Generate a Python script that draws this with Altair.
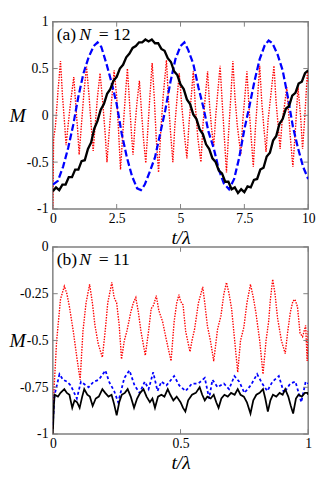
import altair as alt
import pandas as pd

FONT = "Liberation Serif"
FRAME = "#808080"
W = 262
H = 192

# ---------------- panel (a): N = 12 ----------------
XA_TICKS = [0, 2.5, 5, 7.5, 10]
YA_TICKS = [-1, -0.5, 0, 0.5, 1]

T_BLACK_A = [0, 0.125, 0.25, 0.375, 0.5, 0.625, 0.75, 0.875, 1.0, 1.125,
             1.25, 1.375, 1.5, 1.625, 1.75, 1.875, 2.0, 2.125, 2.25, 2.375,
             2.5, 2.625, 2.75, 2.875, 3.0, 3.125, 3.25, 3.375, 3.5, 3.625,
             3.75, 3.875, 4.0, 4.125, 4.25, 4.375, 4.5, 4.625, 4.75, 4.875,
             5.0, 5.125, 5.25, 5.375, 5.5, 5.625, 5.75, 5.875, 6.0, 6.125,
             6.25, 6.375, 6.5, 6.625, 6.75, 6.875, 7.0, 7.125, 7.25, 7.375,
             7.5, 7.625, 7.75, 7.875, 8.0, 8.125, 8.25, 8.375, 8.5, 8.625,
             8.75, 8.875, 9.0, 9.125, 9.25, 9.375, 9.5, 9.625, 9.75, 9.875,
             10.0]
M_BLACK_A = [-0.81, -0.77, -0.80, -0.74, -0.74, -0.66, -0.66, -0.58, -0.58, -0.49,
             -0.48, -0.36, -0.29, -0.14, -0.06, 0.06, 0.12, 0.23, 0.28, 0.37,
             0.41, 0.50, 0.54, 0.62, 0.66, 0.72, 0.74, 0.78, 0.78, 0.81,
             0.79, 0.81, 0.77, 0.77, 0.71, 0.69, 0.61, 0.57, 0.47, 0.43,
             0.33, 0.28, 0.17, 0.12, 0.01, -0.04, -0.15, -0.20, -0.31, -0.36,
             -0.46, -0.50, -0.59, -0.62, -0.71, -0.71, -0.79, -0.77, -0.83, -0.79,
             -0.82, -0.76, -0.77, -0.69, -0.68, -0.58, -0.56, -0.44, -0.40, -0.27,
             -0.22, -0.09, -0.04, 0.07, 0.10, 0.21, 0.24, 0.34, 0.36, 0.45,
             0.48]

T_BLUE_A = [0, 0.2, 0.4, 0.6, 0.8, 1.0, 1.2, 1.4, 1.6, 1.75,
            1.9, 2.1, 2.3, 2.5, 2.7, 2.9, 3.1, 3.3, 3.45, 3.6,
            3.8, 4.0, 4.2, 4.4, 4.6, 4.8, 5.0, 5.15, 5.3, 5.5,
            5.7, 5.9, 6.1, 6.3, 6.5, 6.7, 6.9, 7.1, 7.3, 7.5,
            7.7, 7.9, 8.1, 8.3, 8.45, 8.6, 8.8, 9.0, 9.2, 9.4,
            9.6, 9.8, 10.0]
M_BLUE_A = [-0.74, -0.70, -0.55, -0.35, -0.10, 0.20, 0.45, 0.62, 0.74, 0.78,
            0.73, 0.55, 0.35, 0.12, -0.20, -0.45, -0.65, -0.78, -0.80, -0.74,
            -0.60, -0.45, -0.20, 0.05, 0.35, 0.60, 0.74, 0.78, 0.70, 0.55,
            0.30, 0.08, -0.18, -0.35, -0.58, -0.73, -0.79, -0.68, -0.45, -0.15,
            0.10, 0.37, 0.60, 0.75, 0.80, 0.77, 0.65, 0.48, 0.20, -0.12,
            -0.35, -0.55, -0.68]

T_RED_A = [0, 0.03, 0.1, 0.2, 0.3, 0.38, 0.45, 0.52, 0.6, 0.7,
           0.82, 0.9, 0.97, 1.03, 1.12, 1.22, 1.32, 1.42, 1.5, 1.58,
           1.66, 1.75, 1.85, 1.95, 2.05, 2.12, 2.2, 2.3, 2.4, 2.5,
           2.58, 2.65, 2.75, 2.85, 2.92, 3.0, 3.08, 3.14, 3.22, 3.3,
           3.39, 3.47, 3.55, 3.64, 3.72, 3.8, 3.89, 3.97, 4.05, 4.14,
           4.22, 4.32, 4.45, 4.52, 4.6, 4.7, 4.78, 4.87, 4.95, 5.05,
           5.15, 5.25, 5.33, 5.42, 5.5, 5.58, 5.68, 5.8, 5.88, 5.97,
           6.06, 6.14, 6.22, 6.3, 6.38, 6.46, 6.55, 6.63, 6.72, 6.8,
           6.88, 6.97, 7.05, 7.13, 7.22, 7.36, 7.44, 7.52, 7.6, 7.68,
           7.77, 7.85, 7.93, 8.02, 8.1, 8.18, 8.27, 8.35, 8.43, 8.55,
           8.66, 8.74, 8.82, 8.9, 8.98, 9.07, 9.16, 9.24, 9.32, 9.4,
           9.5, 9.6, 9.7, 9.78, 9.87, 9.97, 10.0]
M_RED_A = [-1.0, -0.25, -0.12, 0.25, 0.58, 0.2, -0.05, -0.32, -0.1, 0.15,
           0.41, 0.1, -0.15, -0.42, -0.1, 0.25, 0.52, 0.2, -0.1, -0.38,
           -0.1, 0.2, 0.45, 0.15, -0.2, -0.5, -0.2, 0.15, 0.48, 0.2,
           -0.2, -0.58, -0.15, 0.25, 0.5, 0.15, -0.2, -0.42, -0.1, 0.15,
           0.37, 0.05, -0.25, -0.51, -0.15, 0.2, 0.56, 0.2, -0.25, -0.61,
           -0.2, 0.2, 0.59, 0.2, -0.15, -0.5, -0.1, 0.2, 0.45, 0.1,
           -0.2, -0.46, -0.1, 0.2, 0.47, 0.1, -0.25, -0.5, -0.1, 0.2,
           0.47, 0.1, -0.15, -0.33, 0.0, 0.25, 0.53, 0.15, -0.25, -0.61,
           -0.2, 0.2, 0.58, 0.2, -0.1, -0.42, -0.05, 0.2, 0.47, 0.1,
           -0.25, -0.55, -0.15, 0.2, 0.53, 0.15, -0.15, -0.39, -0.05, 0.25,
           0.53, 0.15, -0.1, -0.36, -0.05, 0.1, 0.3, 0.0, -0.3, -0.55,
           -0.15, 0.3, 0.0, -0.36, 0.0, 0.47, 0.35]

# ---------------- panel (b): N = 11 ----------------
XB_TICKS = [0, 0.5, 1]
YB_TICKS = [-1, -0.75, -0.5, -0.25, 0]

T_RED_B = [0, 0.005, 0.015, 0.03, 0.045, 0.055, 0.065, 0.08, 0.095, 0.107,
           0.118, 0.13, 0.144, 0.155, 0.165, 0.178, 0.194, 0.205, 0.215, 0.231,
           0.24, 0.25, 0.26, 0.269, 0.28, 0.29, 0.305, 0.315, 0.325, 0.335,
           0.345, 0.362, 0.375, 0.385, 0.395, 0.405, 0.415, 0.43, 0.445, 0.463,
           0.475, 0.485, 0.494, 0.5, 0.51, 0.52, 0.537, 0.545, 0.555, 0.57,
           0.587, 0.595, 0.605, 0.617, 0.63, 0.645, 0.658, 0.67, 0.68, 0.69,
           0.7, 0.712, 0.724, 0.735, 0.748, 0.76, 0.774, 0.785, 0.795, 0.81,
           0.823, 0.835, 0.845, 0.852, 0.861, 0.87, 0.88, 0.895, 0.91, 0.92,
           0.93, 0.94, 0.948, 0.958, 0.968, 0.978, 0.99, 0.996, 1.0]
M_RED_B = [-1.0, -0.75, -0.5, -0.28, -0.21, -0.25, -0.32, -0.45, -0.6, -0.71,
           -0.45, -0.3, -0.2, -0.3, -0.42, -0.52, -0.59, -0.45, -0.3, -0.19,
           -0.27, -0.3, -0.42, -0.6, -0.5, -0.45, -0.35, -0.3, -0.27, -0.35,
           -0.45, -0.58, -0.45, -0.33, -0.31, -0.26, -0.34, -0.4, -0.5, -0.61,
           -0.4, -0.3, -0.255, -0.29, -0.31, -0.45, -0.56, -0.5, -0.44, -0.3,
           -0.214, -0.3, -0.42, -0.5, -0.61, -0.44, -0.37, -0.25, -0.19, -0.25,
           -0.33, -0.5, -0.67, -0.5, -0.43, -0.3, -0.2, -0.27, -0.35, -0.5,
           -0.68, -0.5, -0.4, -0.28, -0.173, -0.25, -0.38, -0.5, -0.57, -0.45,
           -0.35, -0.29, -0.28, -0.32, -0.46, -0.48, -0.42, -0.61, -0.45]

T_BLUE_B = [0, 0.007, 0.026, 0.04, 0.055, 0.07, 0.094, 0.11, 0.12, 0.14,
            0.16, 0.18, 0.206, 0.22, 0.24, 0.256, 0.28, 0.3, 0.32, 0.34,
            0.36, 0.375, 0.393, 0.41, 0.425, 0.445, 0.475, 0.495, 0.52, 0.545,
            0.57, 0.595, 0.612, 0.625, 0.645, 0.67, 0.69, 0.711, 0.73, 0.75,
            0.775, 0.8, 0.82, 0.84, 0.86, 0.885, 0.905, 0.93, 0.95, 0.973,
            0.99, 1.0]
M_BLUE_B = [-0.95, -0.79, -0.68, -0.71, -0.72, -0.74, -0.81, -0.72, -0.73, -0.75,
            -0.72, -0.71, -0.66, -0.72, -0.77, -0.83, -0.7, -0.66, -0.74, -0.78,
            -0.72, -0.76, -0.67, -0.77, -0.72, -0.74, -0.69, -0.74, -0.77, -0.73,
            -0.73, -0.70, -0.81, -0.71, -0.75, -0.73, -0.76, -0.69, -0.72, -0.78,
            -0.74, -0.68, -0.73, -0.77, -0.72, -0.69, -0.78, -0.73, -0.72, -0.83,
            -0.72, -0.73]

T_BLACK_B = [0, 0.004, 0.007, 0.02, 0.03, 0.045, 0.055, 0.065, 0.076, 0.085,
             0.095, 0.105, 0.115, 0.123, 0.135, 0.145, 0.156, 0.168, 0.18, 0.194,
             0.205, 0.218, 0.23, 0.24, 0.25, 0.26, 0.27, 0.282, 0.293, 0.305,
             0.318, 0.33, 0.342, 0.355, 0.367, 0.38, 0.39, 0.4, 0.412, 0.425,
             0.437, 0.45, 0.46, 0.472, 0.485, 0.5, 0.51, 0.519, 0.53, 0.545,
             0.56, 0.575, 0.585, 0.595, 0.605, 0.618, 0.63, 0.64, 0.649, 0.66,
             0.672, 0.685, 0.698, 0.712, 0.724, 0.735, 0.748, 0.76, 0.774, 0.785,
             0.797, 0.81, 0.823, 0.832, 0.842, 0.852, 0.862, 0.875, 0.888, 0.9,
             0.91, 0.922, 0.932, 0.941, 0.952, 0.962, 0.975, 0.987, 0.997, 1.0]
M_BLACK_B = [-1.0, -0.85, -0.79, -0.8, -0.78, -0.76, -0.78, -0.79, -0.86, -0.82,
             -0.83, -0.86, -0.8, -0.76, -0.79, -0.8, -0.85, -0.81, -0.8, -0.76,
             -0.78, -0.8, -0.79, -0.84, -0.90, -0.83, -0.79, -0.78, -0.76, -0.8,
             -0.86, -0.81, -0.78, -0.76, -0.8, -0.83, -0.81, -0.86, -0.8, -0.79,
             -0.8, -0.76, -0.79, -0.82, -0.8, -0.83, -0.86, -0.88, -0.82, -0.79,
             -0.78, -0.75, -0.79, -0.82, -0.8, -0.81, -0.79, -0.83, -0.86, -0.81,
             -0.79, -0.8, -0.78, -0.79, -0.76, -0.79, -0.8, -0.83, -0.89, -0.82,
             -0.79, -0.78, -0.76, -0.81, -0.88, -0.82, -0.79, -0.8, -0.78, -0.79,
             -0.76, -0.8, -0.85, -0.89, -0.81, -0.79, -0.8, -0.78, -0.78, -0.79]


def panel(xdom, ydom, xticks, yticks, series, tag, num, title_y):
    x_enc = alt.X(
        "t:Q",
        scale=alt.Scale(domain=xdom, nice=False, zero=False),
        axis=alt.Axis(
            values=xticks, labelExpr="'' + datum.value", title="t/λ",
            titleFont=FONT, titleFontSize=20, titleFontStyle="italic",
            titleFontWeight="normal", titleColor="black",
            titleY=title_y, titleBaseline="alphabetic",
            labelFont=FONT, labelFontSize=14, labelColor="black",
            labelPadding=3, labelFlush=False, labelOverlap=False,
            domain=False, ticks=False, grid=False,
        ),
    )
    y_enc = alt.Y(
        "M:Q",
        scale=alt.Scale(domain=ydom, nice=False, zero=False),
        axis=alt.Axis(
            values=yticks, labelExpr="'' + datum.value", title="M",
            titleFont=FONT, titleFontSize=20, titleFontStyle="italic",
            titleFontWeight="normal", titleColor="black",
            titleAngle=0, titleAlign="left", titleBaseline="middle",
            titleX=-45, titleY=H / 2,
            labelFont=FONT, labelFontSize=14, labelColor="black",
            labelPadding=5, labelFlush=False, labelOverlap=False,
            domain=False, ticks=False, grid=False,
        ),
    )
    layers = []
    for ts, ms, style in series:
        df = pd.DataFrame({"t": ts, "M": ms})
        layers.append(
            alt.Chart(df).mark_line(clip=True, **style).encode(x=x_enc, y=y_enc)
        )

    xt = pd.DataFrame({"t": xticks})
    yt = pd.DataFrame({"M": yticks})
    tick = dict(color=FRAME, strokeWidth=1)
    layers += [
        alt.Chart(xt).mark_rule(**tick).encode(x=x_enc, y=alt.value(0), y2=alt.value(5)),
        alt.Chart(xt).mark_rule(**tick).encode(x=x_enc, y=alt.value(H), y2=alt.value(H - 5)),
        alt.Chart(yt).mark_rule(**tick).encode(y=y_enc, x=alt.value(0), x2=alt.value(5)),
        alt.Chart(yt).mark_rule(**tick).encode(y=y_enc, x=alt.value(W), x2=alt.value(W - 5)),
    ]

    txt = dict(font=FONT, fontSize=18, align="left", baseline="alphabetic", color="black")
    layers += [
        alt.Chart(pd.DataFrame({"s": [tag]})).mark_text(**txt).encode(
            x=alt.value(4), y=alt.value(19), text="s:N"),
        alt.Chart(pd.DataFrame({"s": ["N"]})).mark_text(fontStyle="italic", **txt).encode(
            x=alt.value(27), y=alt.value(19), text="s:N"),
        alt.Chart(pd.DataFrame({"s": ["= " + num]})).mark_text(**txt).encode(
            x=alt.value(47), y=alt.value(19), text="s:N"),
    ]
    return alt.layer(*layers).properties(width=W, height=H)


RED = dict(color="#ff0000", strokeWidth=1.4, strokeDash=[1.5, 1.3])

pa = panel(
    [0, 10], [-1, 1], XA_TICKS, YA_TICKS,
    [
        (T_RED_A, M_RED_A, RED),
        (T_BLUE_A, M_BLUE_A, dict(color="#0000ff", strokeWidth=2.3, strokeDash=[7, 3])),
        (T_BLACK_A, M_BLACK_A, dict(color="#000000", strokeWidth=2.4)),
    ],
    "(a)", "12", 35,
)

pb = panel(
    [0, 1], [-1, 0], XB_TICKS, YB_TICKS,
    [
        (T_RED_B, M_RED_B, RED),
        (T_BLUE_B, M_BLUE_B, dict(color="#0000ff", strokeWidth=1.8, strokeDash=[3, 2.5])),
        (T_BLACK_B, M_BLACK_B, dict(color="#000000", strokeWidth=1.8)),
    ],
    "(b)", "11", 35,
)

chart = alt.vconcat(
    pa, pb, spacing=39, bounds="flush",
    padding={"left": 0, "top": 0, "right": 0, "bottom": 0},
).configure_view(stroke=FRAME, strokeWidth=1.5)

chart.save("out.html", embed_options={"renderer": "svg", "actions": False})
